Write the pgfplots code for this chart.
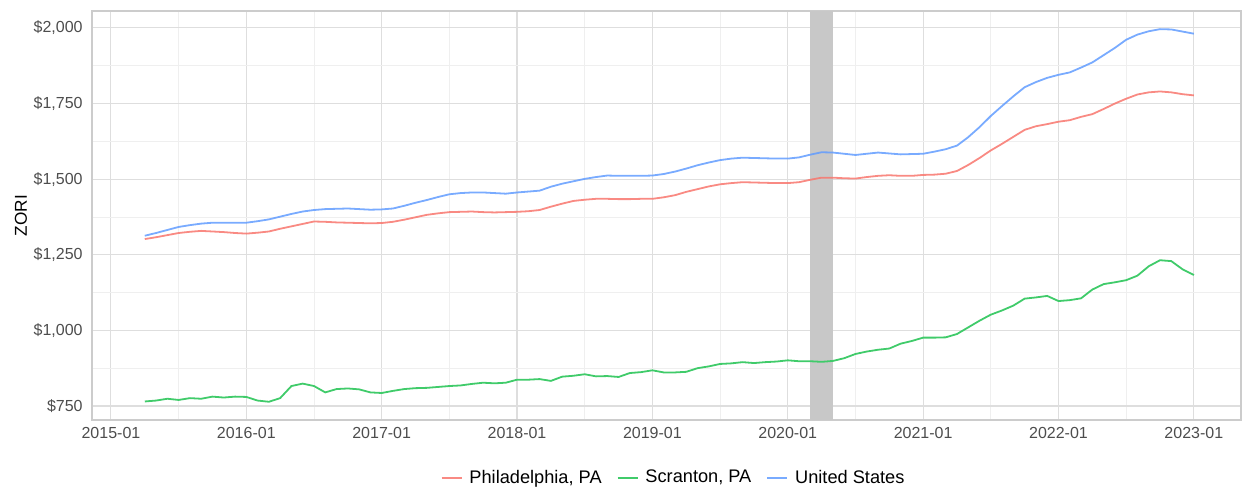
\documentclass[border=0pt]{standalone}
\usepackage{pgfplots}
\usepackage{pgfplotstable}
\usepackage{fontspec}
\setmainfont{Liberation Sans}
\pgfplotsset{compat=1.18}
\definecolor{phl}{HTML}{F8766D}
\definecolor{scr}{HTML}{00BA38}
\definecolor{usa}{HTML}{619CFF}
\definecolor{band}{HTML}{C8C8C8}
\definecolor{gmaj}{HTML}{DEDEDE}
\definecolor{gmin}{HTML}{EFEFEF}
\definecolor{bord}{HTML}{CCCCCC}
\definecolor{tlab}{HTML}{4D4D4D}
\pgfplotstableread{
k phl scr us
0 1302 765 1313
1 1308 768 1322
2 1315 774 1332
3 1322 770 1342
4 1326 776 1348
5 1329 774 1353
6 1327 781 1356
7 1325 778 1356
8 1322 781 1356
9 1320 780 1356
10 1323 768 1361
11 1327 764 1367
12 1336 776 1376
13 1344 816 1385
14 1352 824 1393
15 1360 816 1398
16 1359 795 1401
17 1357 806 1402
18 1356 808 1403
19 1355 805 1401
20 1354 795 1399
21 1355 793 1400
22 1359 800 1403
23 1366 806 1412
24 1374 809 1422
25 1382 810 1431
26 1387 813 1441
27 1391 816 1450
28 1392 818 1454
29 1393 823 1456
30 1391 827 1456
31 1390 825 1454
32 1391 827 1452
33 1392 837 1456
34 1394 837 1459
35 1398 839 1462
36 1409 833 1475
37 1419 847 1485
38 1428 850 1493
39 1432 855 1501
40 1435 848 1507
41 1435 849 1512
42 1434 846 1511
43 1434 859 1511
44 1435 862 1511
45 1435 868 1512
46 1440 861 1517
47 1447 861 1525
48 1458 863 1535
49 1467 875 1546
50 1476 881 1555
51 1483 889 1563
52 1487 891 1568
53 1490 895 1571
54 1489 892 1570
55 1488 895 1569
56 1487 897 1568
57 1487 901 1568
58 1490 898 1572
59 1498 898 1581
60 1505 896 1589
61 1505 899 1588
62 1503 908 1584
63 1502 922 1580
64 1507 930 1584
65 1511 936 1588
66 1513 940 1585
67 1511 956 1582
68 1511 965 1583
69 1514 976 1584
70 1515 976 1591
71 1518 977 1599
72 1527 988 1611
73 1547 1010 1639
74 1570 1032 1672
75 1595 1052 1709
76 1617 1066 1742
77 1640 1082 1774
78 1663 1105 1804
79 1675 1109 1821
80 1682 1114 1835
81 1690 1097 1845
82 1695 1100 1853
83 1706 1106 1869
84 1715 1135 1886
85 1732 1153 1910
86 1750 1159 1934
87 1766 1166 1961
88 1780 1181 1978
89 1787 1212 1989
90 1790 1232 1996
91 1787 1229 1995
92 1781 1202 1988
93 1777 1183 1981
}\zori
\begin{document}
\begin{tikzpicture}
\useasboundingbox (-46pt,-34.5pt) rectangle (575.5pt,210pt);
\begin{axis}[
  at={(0pt,0pt)}, anchor=south west,
  scale only axis, width=574.5pt, height=204.5pt,
  xmin=-4.68, xmax=97.18, ymin=703.7, ymax=2056,
  xtick={-3,9,21,33,45,57,69,81,93},
  xticklabels={2015-01,2016-01,2017-01,2018-01,2019-01,2020-01,2021-01,2022-01,2023-01},
  minor xtick={3,15,27,39,51,63,75,87},
  ytick={750,1000,1250,1500,1750,2000},
  yticklabels={{\$750},{\$1,000},{\$1,250},{\$1,500},{\$1,750},{\$2,000}},
  minor ytick={875,1125,1375,1625,1875},
  grid=both,
  major grid style={draw=gmaj, line width=0.55pt},
  minor grid style={draw=gmin, line width=0.35pt},
  major tick length=0pt, minor tick length=0pt,
  axis line style={draw=bord, line width=0.6pt},
  tick label style={font=\fontsize{8}{9.6}\selectfont, text=tlab, inner sep=0pt},
  xticklabel shift=3.7pt,
  yticklabel shift=4.5pt,
  ylabel={ZORI},
  every axis y label/.style={at={(axis description cs:-0.0618,0.5)}, anchor=center, rotate=90, font=\fontsize{8.6}{10}\selectfont},
  legend columns=3,
  legend style={at={(0.507,-0.1418)}, anchor=center, draw=none, fill=none, inner sep=0pt,
    font=\fontsize{9.1}{10.5}\selectfont,
    /tikz/every even column/.append style={column sep=5.5pt},
    /tikz/every odd column/.append style={column sep=1.5pt}},
  legend image code/.code={\draw[#1] (0pt,0pt) -- (10pt,0pt);},
  legend cell align=left,
  clip=true,
]
\addplot[draw=none, fill=band, forget plot] coordinates {(59,2100) (61,2100)} \closedcycle;
\addplot[phl, draw opacity=0.85, line width=0.9pt] table[x=k, y=phl] {\zori};
\addlegendentry{Philadelphia, PA}
\addplot[scr!75!white, line width=0.9pt] table[x=k, y=scr] {\zori};
\addlegendentry{Scranton, PA}
\addplot[usa, draw opacity=0.85, line width=0.9pt] table[x=k, y=us] {\zori};
\addlegendentry{United States}
\end{axis}
\end{tikzpicture}
\end{document}
